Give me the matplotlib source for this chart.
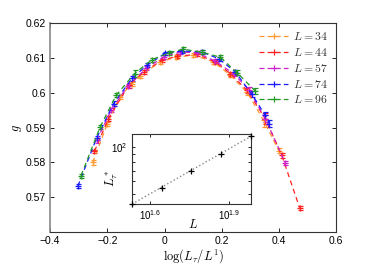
import matplotlib
matplotlib.use("Agg")
import matplotlib.pyplot as plt
from matplotlib.lines import Line2D
import numpy as np

plt.rcParams['mathtext.fontset'] = 'cm'
plt.rcParams['font.family'] = ['Liberation Sans', 'DejaVu Sans']

sizes = [34, 44, 57, 74, 96]
labels = ["$L = 34$", "$L = 44$", "$L = 57$", "$L = 74$", "$L = 96$"]
colors = ["#ff9933", "#ff2020", "#cc22cc", "#1a1aff", "#229922"]

x34 = [-0.251, -0.200, -0.157, -0.114, -0.085, -0.015, 0.040, 0.101, 0.171, 0.230, 0.288, 0.346, 0.399]
g34 = [0.5800, 0.5911, 0.5988, 0.6026, 0.6048, 0.6089, 0.6102, 0.6108, 0.6089, 0.6050, 0.6002, 0.5921, 0.5834]
e34 = [0.0006, 0.0006, 0.0006, 0.0006, 0.0006, 0.0005, 0.0005, 0.0005, 0.0005, 0.0006, 0.0007, 0.0020, 0.0008]

x44 = [-0.245, -0.196, -0.126, -0.073, -0.009, 0.043, 0.113, 0.177, 0.230, 0.288, 0.352, 0.410, 0.472]
g44 = [0.5832, 0.5926, 0.6021, 0.6060, 0.6093, 0.6105, 0.6110, 0.6089, 0.6055, 0.6007, 0.5926, 0.5820, 0.5670]
e44 = [0.0005, 0.0006, 0.0006, 0.0006, 0.0005, 0.0005, 0.0005, 0.0005, 0.0006, 0.0007, 0.0015, 0.0007, 0.0006]

x57 = [-0.237, -0.187, -0.129, -0.064, -0.003, 0.055, 0.113, 0.177, 0.241, 0.294, 0.352, 0.422]
g57 = [0.5863, 0.5950, 0.6019, 0.6070, 0.6103, 0.6117, 0.6115, 0.6091, 0.6055, 0.6009, 0.5926, 0.5798]
e57 = [0.0006, 0.0006, 0.0006, 0.0006, 0.0005, 0.0005, 0.0005, 0.0005, 0.0006, 0.0007, 0.0010, 0.0006]

x74 = [-0.303, -0.237, -0.178, -0.114, -0.062, 0.002, 0.061, 0.130, 0.189, 0.247, 0.305, 0.352, 0.366]
g74 = [0.5732, 0.5871, 0.5969, 0.6041, 0.6079, 0.6113, 0.6120, 0.6117, 0.6098, 0.6060, 0.5996, 0.5935, 0.5911]
e74 = [0.0005, 0.0006, 0.0006, 0.0006, 0.0006, 0.0005, 0.0005, 0.0005, 0.0006, 0.0006, 0.0008, 0.0010, 0.0010]

x96 = [-0.292, -0.225, -0.169, -0.105, -0.044, 0.014, 0.064, 0.130, 0.195, 0.253, 0.317]
g96 = [0.5762, 0.5902, 0.5993, 0.6055, 0.6095, 0.6114, 0.6125, 0.6117, 0.6102, 0.6058, 0.6005]
e96 = [0.0006, 0.0006, 0.0006, 0.0010, 0.0006, 0.0005, 0.0007, 0.0006, 0.0006, 0.0008, 0.0008]

xs = [x34, x44, x57, x74, x96]
gs = [g34, g44, g57, g74, g96]
es = [e34, e44, e57, e74, e96]

Ltau_star = [42.9, 54.6, 70.5, 90.5, 117.0]

fig = plt.figure(figsize=(3.74, 2.75), dpi=100)
ax = fig.add_axes([0.134, 0.156, 0.765, 0.76])

handles = []
for x, g, e, c, lab in zip(xs, gs, es, colors, labels):
    ax.errorbar(x, g, yerr=e, color=c, ls='--', lw=0.9, marker='+', ms=4,
                mew=0.9, capsize=1.8, elinewidth=0.8, capthick=0.8,
                dashes=(4, 3))
    handles.append(Line2D([], [], color=c, ls='--', lw=0.9, marker='+', ms=5,
                          mew=0.9, dashes=(4, 2.5)))

ax.set_xlim(-0.4, 0.6)
ax.set_ylim(0.56, 0.62)
ax.set_xticks([-0.4, -0.2, 0, 0.2, 0.4, 0.6])
ax.set_xticklabels(["\u22120.4", "\u22120.2", "0", "0.2", "0.4", "0.6"])
ax.set_yticks([0.57, 0.58, 0.59, 0.60, 0.61, 0.62])
ax.set_yticklabels(["0.57", "0.58", "0.59", "0.6", "0.61", "0.62"])
ax.tick_params(direction='in', labelsize=7.5, length=3, width=0.6, top=True, right=True, pad=3)
for s in ax.spines.values():
    s.set_linewidth(0.8)
    s.set_color('#333333')
ax.spines['left'].set_color('#888888')
ax.spines['left'].set_linewidth(1.2)
ax.set_xlabel(r"$\log(L_\tau/L^1)$", fontsize=9, labelpad=1)
ax.set_ylabel(r"$g$", fontsize=9, labelpad=1)

leg = ax.legend(handles, labels, loc='upper right', frameon=False, fontsize=8.5,
                handlelength=2.5, borderaxespad=0.3, labelspacing=0.32,
                handletextpad=0.4)
for t in leg.get_texts():
    t.set_color('#333333')

ins = fig.add_axes([0.353, 0.258, 0.318, 0.2545])
ins.set_xscale('log')
ins.set_yscale('log')
ins.plot([sizes[0], sizes[-1]], [Ltau_star[0], Ltau_star[-1]], ls=':', color='#888888', lw=1)
ins.plot(sizes, Ltau_star, ls='none', marker='+', color='black', ms=4.5, mew=0.9, clip_on=False, zorder=5)
ins.set_xlim(34, 96)
ins.set_ylim(42.9, 121)
ins.set_xticks([10**1.6, 10**1.9])
ins.set_xticklabels([r"$\mathdefault{10^{1.6}}$", r"$\mathdefault{10^{1.9}}$"])
ins.xaxis.set_minor_locator(matplotlib.ticker.NullLocator())
ins.set_yticks([100])
ins.set_yticklabels([r"$\mathdefault{10^{2}}$"])
ins.yaxis.set_minor_locator(matplotlib.ticker.FixedLocator([50, 60, 70, 80, 90]))
ins.yaxis.set_minor_formatter(matplotlib.ticker.NullFormatter())
ins.tick_params(which='both', direction='in', labelsize=7, top=True, right=True, length=2.5, width=0.6, pad=3)
for s in ins.spines.values():
    s.set_linewidth(0.8)
    s.set_color('#333333')
ins.set_xlabel(r"$L$", fontsize=9)
ins.xaxis.set_label_coords(0.51, -0.2)
ins.set_ylabel(r"$L_\tau^*$", fontsize=9)
ins.yaxis.set_label_coords(-0.1, 0.37)

fig.savefig("out.png", dpi=100)
